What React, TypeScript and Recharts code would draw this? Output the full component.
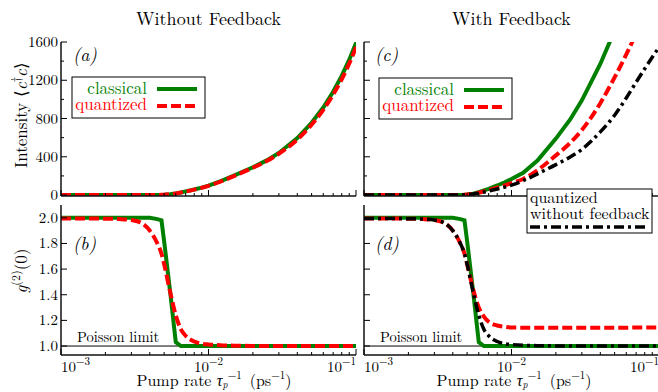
import React from 'react';
import { LineChart, Line, XAxis, YAxis, ReferenceLine } from 'recharts';

const FONT = "'Latin Modern Roman'";
const GREEN = '#008000';
const RED = '#ff0000';
const BLACK = '#000000';

// Pump rate grid (ps^-1)
const pumpRates = [0.001, 0.0015, 0.002, 0.0025, 0.003, 0.0035, 0.004, 0.0045, 0.0048, 0.005, 0.0055, 0.006, 0.0065, 0.007, 0.008, 0.009, 0.01, 0.012, 0.015, 0.02, 0.025, 0.03, 0.04, 0.05, 0.06, 0.07, 0.08, 0.09, 0.1, 0.105];

// (a) Intensity without feedback
const intensityClassicalNoFb = [0, 0, 0, 0, 0, 0, 0, 0, 1, 2, 8, 17, 27, 38, 58, 78, 98, 142, 205, 290, 365, 440, 595, 755, 915, 1080, 1245, 1415, 1590, 1680];
const intensityQuantizedNoFb = [0, 0, 0, 0, 0, 0, 0.5, 1, 2, 3, 9, 17, 27, 37, 57, 76, 96, 139, 201, 285, 358, 432, 580, 735, 890, 1050, 1210, 1375, 1545, 1630];

// (c) Intensity with feedback
const intensityClassicalFb = [0, 0, 0, 0, 0, 0, 0, 1, 3, 6, 15, 30, 48, 65, 100, 134, 168, 232, 360, 590, 790, 990, 1370, 1720, 2080, 2430, 2800, 3150, 3500, 3680];
const intensityQuantizedFb = [0, 0, 0, 0, 0, 0, 0, 1, 3, 5, 12, 24, 38, 52, 78, 102, 125, 168, 260, 415, 545, 680, 960, 1230, 1470, 1690, 1900, 2100, 2300, 2400];
const intensityQuantizedNoFbRef = [0, 0, 0, 0, 0, 0, 0, 1, 2, 5, 10, 20, 31, 42, 63, 83, 104, 150, 222, 318, 398, 478, 660, 835, 1015, 1180, 1320, 1440, 1545, 1590];

// (b)/(d) g2(0)
const g2Classical = [2.0, 2.0, 2.0, 2.0, 2.0, 2.0, 2.0, 1.99, 1.98, 1.82, 1.42, 1.03, 1.0, 1.0, 1.0, 1.0, 1.0, 1.0, 1.0, 1.0, 1.0, 1.0, 1.0, 1.0, 1.0, 1.0, 1.0, 1.0, 1.0, 1.0];
const g2QuantizedNoFb = [1.995, 1.995, 1.993, 1.99, 1.982, 1.96, 1.9, 1.8, 1.72, 1.64, 1.42, 1.24, 1.13, 1.08, 1.035, 1.018, 1.012, 1.006, 1.003, 1.001, 1.0, 1.0, 1.0, 1.0, 1.0, 1.0, 1.0, 1.0, 1.0, 1.0];
const g2QuantizedFb = [1.995, 1.995, 1.993, 1.99, 1.982, 1.96, 1.9, 1.8, 1.72, 1.64, 1.44, 1.3, 1.23, 1.19, 1.16, 1.15, 1.145, 1.143, 1.142, 1.142, 1.142, 1.142, 1.143, 1.143, 1.143, 1.144, 1.144, 1.145, 1.145, 1.145];

// Ticks
const xTicks = [0.001, 0.002, 0.003, 0.004, 0.005, 0.006, 0.007, 0.008, 0.009, 0.01, 0.02, 0.03, 0.04, 0.05, 0.06, 0.07, 0.08, 0.09, 0.1];
const intensityTicks = [0, 200, 400, 600, 800, 1000, 1200, 1400, 1600];
const intensityLabelled = [0, 400, 800, 1200, 1600];
const g2Ticks = [1.0, 1.2, 1.4, 1.6, 1.8, 2.0];

const X_DOMAIN: [number, number] = [0.001, 0.1];
const INT_DOMAIN: [number, number] = [-10, 1600];
const G2_DOMAIN: [number, number] = [0.93, 2.1];

const dataA = pumpRates.map((p, i) => ({ p, classical: intensityClassicalNoFb[i], quantized: intensityQuantizedNoFb[i] }));
const dataB = pumpRates.map((p, i) => ({ p, classical: g2Classical[i], quantized: g2QuantizedNoFb[i] }));
const dataC = pumpRates.map((p, i) => ({ p, classical: intensityClassicalFb[i], quantized: intensityQuantizedFb[i], noFb: intensityQuantizedNoFbRef[i] }));
const dataD = pumpRates.map((p, i) => ({ p, classical: g2Classical[i], quantized: g2QuantizedFb[i], noFb: g2QuantizedNoFb[i] }));

const T = { fontFamily: FONT } as React.CSSProperties;

const isDecade = (v: number) => Math.abs(Math.log10(v) - Math.round(Math.log10(v))) < 1e-6;

const makeXTick = (side: 'bottom' | 'top', showLabel: boolean) => (props: any) => {
  const { x, y, payload } = props;
  const v = payload.value as number;
  const major = isDecade(v);
  const len = major ? 6 : 3;
  const d = side === 'bottom' ? -1 : 1;
  const exp = Math.round(-Math.log10(v));
  const anchor = exp === 3 ? 'start' : exp === 1 ? 'end' : 'middle';
  return (
    <g>
      <line x1={x} x2={x} y1={y} y2={y + d * len} stroke="#000" strokeWidth={1} />
      {showLabel && major && (
        <text x={x} y={y + 17} textAnchor={anchor} style={T} fontSize={15} fill="#000">
          10<tspan dy={-7} fontSize={11}>{'−' + exp}</tspan>
        </text>
      )}
    </g>
  );
};

const makeYTick = (side: 'left' | 'right', labels: number[] | null, fmt: (v: number) => string, majors: number[]) => (props: any) => {
  const { x, y, payload } = props;
  const v = payload.value as number;
  const major = majors.some((m) => Math.abs(m - v) < 1e-9);
  const len = major ? 6 : 3;
  const d = side === 'left' ? 1 : -1;
  const showLabel = labels && labels.some((m) => Math.abs(m - v) < 1e-9);
  return (
    <g>
      <line x1={x} x2={x + d * len} y1={y} y2={y} stroke="#000" strokeWidth={1} />
      {showLabel && (
        <text x={x - 3} y={y} dy={5} textAnchor="end" style={T} fontSize={15} fill="#000">
          {fmt(v)}
        </text>
      )}
    </g>
  );
};

const axisLine = { stroke: '#111', strokeWidth: 1.5 };

type LineSpec = { key: string; color: string; dash?: string; width: number; type: any };

type PanelProps = {
  px: number; py: number; pw: number; ph: number;
  data: any[];
  lines: LineSpec[];
  yDomain: [number, number];
  yTicks: number[];
  yMajors: number[];
  yLabels: number[] | null;
  yFmt: (v: number) => string;
  xLabels: boolean;
  poisson?: boolean;
};

function Panel({ px, py, pw, ph, data, lines, yDomain, yTicks, yMajors, yLabels, yFmt, xLabels, poisson }: PanelProps) {
  const mL = 60, mT = 16, mR = 10, mB = 30;
  return (
    <div style={{ position: 'absolute', left: px - mL, top: py - mT }}>
      <LineChart width={pw + mL + mR} height={ph + mT + mB} data={data} margin={{ top: mT, right: mR, bottom: 0, left: 0 }}>
        <XAxis xAxisId="b" dataKey="p" type="number" scale="log" domain={X_DOMAIN} allowDataOverflow
          ticks={xTicks} interval={0} height={mB} tickSize={0} tickMargin={0} tickLine={false}
          axisLine={axisLine} tick={makeXTick('bottom', xLabels)} orientation="bottom" />
        <XAxis xAxisId="t" dataKey="p" type="number" scale="log" domain={X_DOMAIN} allowDataOverflow
          ticks={xTicks} interval={0} height={0} tickSize={0} tickMargin={0} tickLine={false}
          axisLine={axisLine} tick={makeXTick('top', false)} orientation="top" />
        <YAxis yAxisId="l" type="number" domain={yDomain} allowDataOverflow ticks={yTicks} interval={0}
          width={mL} tickSize={0} tickMargin={0} tickLine={false} axisLine={axisLine}
          tick={makeYTick('left', yLabels, yFmt, yMajors)} orientation="left" />
        <YAxis yAxisId="r" type="number" domain={yDomain} allowDataOverflow ticks={yTicks} interval={0}
          width={0} tickSize={0} tickMargin={0} tickLine={false} axisLine={axisLine}
          tick={makeYTick('right', null, yFmt, yMajors)} orientation="right" />
        {poisson && (
          <ReferenceLine xAxisId="b" yAxisId="l" y={1} stroke="#000" strokeWidth={1}
            label={(p: any) => (
              <text x={p.viewBox.x + 16} y={p.viewBox.y - 4} style={T} fontSize={14.5} fill="#000">Poisson limit</text>
            )} />
        )}
        {lines.map((l) => (
          <Line key={l.key} xAxisId="b" yAxisId="l" dataKey={l.key} stroke={l.color} strokeWidth={l.width}
            strokeDasharray={l.dash} dot={false} activeDot={false} type={l.type} isAnimationActive={false} />
        ))}
      </LineChart>
    </div>
  );
}

const fmtInt = (v: number) => String(v);
const fmtG2 = (v: number) => v.toFixed(1);

const linesAB: LineSpec[] = [
  { key: 'classical', color: GREEN, width: 4, type: 'linear' },
  { key: 'quantized', color: RED, width: 4, dash: '10 4', type: 'monotoneX' },
];
const linesCD: LineSpec[] = [
  { key: 'classical', color: GREEN, width: 4, type: 'linear' },
  { key: 'quantized', color: RED, width: 4, dash: '10 4', type: 'monotoneX' },
  { key: 'noFb', color: BLACK, width: 3.5, dash: '10 4 3 4', type: 'monotoneX' },
];

function LegendBox({ x, y }: { x: number; y: number }) {
  return (
    <g>
      <rect x={x} y={y} width={133} height={41} fill="#fff" stroke="#000" strokeWidth={1} />
      <text x={x + 75} y={y + 17} textAnchor="end" style={T} fontSize={17} fill={GREEN}>classical</text>
      <text x={x + 75} y={y + 33} textAnchor="end" style={T} fontSize={17} fill={RED}>quantized</text>
      <line x1={x + 85} x2={x + 125} y1={y + 12} y2={y + 12} stroke={GREEN} strokeWidth={4} />
      <line x1={x + 85} x2={x + 125} y1={y + 29} y2={y + 29} stroke={RED} strokeWidth={4} strokeDasharray="10 4" />
    </g>
  );
}

export default function App() {
  return (
    <div style={{ position: 'absolute', left: 0, top: 0, width: 658, height: 392, overflow: 'hidden', background: '#fff' }}>
      <Panel px={61} py={42} pw={295} ph={154} data={dataA} lines={linesAB} yDomain={INT_DOMAIN}
        yTicks={intensityTicks} yMajors={intensityLabelled} yLabels={intensityLabelled} yFmt={fmtInt} xLabels={false} />
      <Panel px={61} py={205} pw={295} ph={150} data={dataB} lines={linesAB} yDomain={G2_DOMAIN}
        yTicks={g2Ticks} yMajors={g2Ticks} yLabels={g2Ticks} yFmt={fmtG2} xLabels={true} poisson />
      <Panel px={364} py={42} pw={295} ph={154} data={dataC} lines={linesCD} yDomain={INT_DOMAIN}
        yTicks={intensityTicks} yMajors={intensityLabelled} yLabels={null} yFmt={fmtInt} xLabels={false} />
      <Panel px={364} py={205} pw={295} ph={150} data={dataD} lines={linesCD} yDomain={G2_DOMAIN}
        yTicks={g2Ticks} yMajors={g2Ticks} yLabels={null} yFmt={fmtG2} xLabels={true} poisson />
      <svg width={658} height={392} style={{ position: 'absolute', left: 0, top: 0, pointerEvents: 'none' }}>
        <text x={208.5} y={25} textAnchor="middle" style={T} fontSize={18} fill="#000">Without Feedback</text>
        <text x={511.5} y={25} textAnchor="middle" style={T} fontSize={18} fill="#000">With Feedback</text>

        <text transform="translate(27,115) rotate(-90)" textAnchor="middle" style={T} fontSize={17} fill="#000">
          Intensity ⟨<tspan fontStyle="italic">c</tspan><tspan dy={-7} fontSize={12}>†</tspan><tspan dy={7} fontStyle="italic">c</tspan>⟩
        </text>
        <text transform="translate(27,271) rotate(-90)" textAnchor="middle" style={T} fontSize={17} fill="#000">
          <tspan fontStyle="italic">g</tspan><tspan dy={-7} fontSize={12}>(2)</tspan><tspan dy={7}>(0)</tspan>
        </text>

        {[214, 514].map((cx) => (
          <text key={cx} x={cx} y={386} textAnchor="middle" style={T} fontSize={16} fill="#000">
            Pump rate <tspan fontStyle="italic">τ</tspan><tspan dy={2} fontSize={10} fontStyle="italic">p</tspan><tspan dy={-9} fontSize={11}>−1</tspan><tspan dy={7}>{'\u00a0(ps'}</tspan><tspan dy={-7} fontSize={11}>−1</tspan><tspan dy={7}>)</tspan>
          </text>
        ))}

        <text x={73} y={61} style={T} fontStyle="italic" fontSize={18} fill="#000">(a)</text>
        <text x={73} y={250} style={T} fontStyle="italic" fontSize={18} fill="#000">(b)</text>
        <text x={375} y={61} style={T} fontStyle="italic" fontSize={18} fill="#000">(c)</text>
        <text x={375} y={250} style={T} fontStyle="italic" fontSize={18} fill="#000">(d)</text>

        <LegendBox x={72} y={77} />
        <LegendBox x={379} y={78} />

        <g>
          <rect x={527} y={189} width={125} height={44} fill="#fff" stroke="#000" strokeWidth={1} />
          <text x={530} y={203} style={T} fontSize={16} fill="#000">quantized</text>
          <text x={530} y={219} style={T} fontSize={16} fill="#000">without feedback</text>
          <line x1={530} x2={647} y1={227} y2={227} stroke={BLACK} strokeWidth={3.5} strokeDasharray="10 4 3 4" />
        </g>
      </svg>
    </div>
  );
}
